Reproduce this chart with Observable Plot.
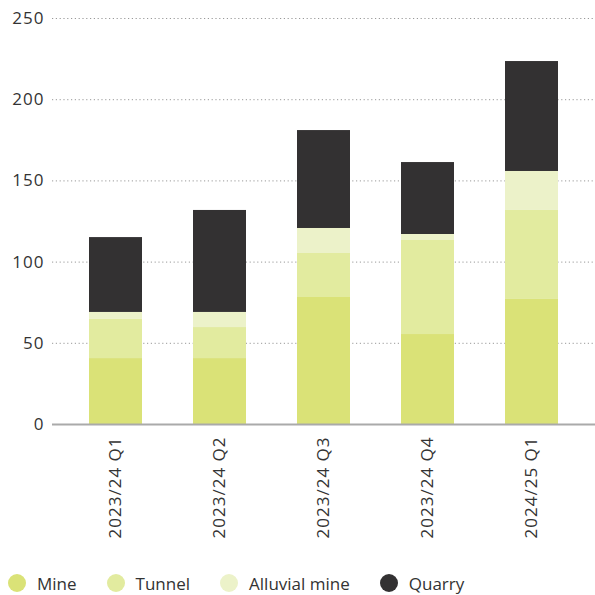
<!DOCTYPE html>
<html>
<head>
<meta charset="utf-8">
<script src="https://cdn.jsdelivr.net/npm/d3@7"></script>
<script src="https://cdn.jsdelivr.net/npm/@observablehq/plot@0.6"></script>
<style>
  html, body { margin: 0; padding: 0; background: #fff; }
  body { width: 595px; font-family: "Open Sans", sans-serif; color: #333; }
  #legend { display: flex; align-items: center; gap: 30px; padding-left: 8px; height: 46px; font-size: 17px; color: #333; }
  #legend .item { display: flex; align-items: center; gap: 11px; }
  #legend .dot { width: 18px; height: 18px; border-radius: 50%; display: inline-block; }
  #chart svg text { letter-spacing: 1px; }
</style>
</head>
<body>
<div id="chart"></div>
<div id="legend"></div>
<script>
const quarters = ["2023/24 Q1", "2023/24 Q2", "2023/24 Q3", "2023/24 Q4", "2024/25 Q1"];
const seriesNames = ["Mine", "Tunnel", "Alluvial mine", "Quarry"];
const seriesColors = ["#dae277", "#e2eb9f", "#ecf2c9", "#333132"];
const mine     = [40.6, 40.6, 78.2, 55.4, 77.0];
const tunnel   = [24.1, 19.1, 27.1, 57.9, 54.8];
const alluvial = [4.3, 9.3, 15.4, 3.7, 24.0];
const quarry   = [46.1, 62.8, 60.3, 44.3, 67.7];
const yTicks = [0, 50, 100, 150, 200, 250];

const seriesValues = [mine, tunnel, alluvial, quarry];
const data = [];
seriesNames.forEach((s, si) => {
  quarters.forEach((q, qi) => data.push({quarter: q, series: s, value: seriesValues[si][qi]}));
});

const chart = Plot.plot({
  width: 595,
  height: 560,
  marginTop: 18,
  marginLeft: 52,
  marginRight: 0,
  marginBottom: 136,
  style: {fontFamily: "Open Sans, sans-serif", fontSize: "17px", color: "#333"},
  x: {domain: quarters, paddingInner: 0.49, paddingOuter: 0.355, label: null},
  y: {domain: [0, 250], label: null},
  color: {domain: seriesNames, range: seriesColors},
  marks: [
    Plot.gridY(yTicks, {stroke: "#999", strokeOpacity: 1, strokeDasharray: "1.2,2.6", strokeWidth: 1}),
    Plot.barY(data, {x: "quarter", y: "value", fill: "series", order: seriesNames}),
    Plot.ruleY([0], {stroke: "#aaa", strokeWidth: 2}),
    Plot.axisY(yTicks, {tickSize: 0, tickPadding: 8, fontSize: 17, label: null, fill: "#333"}),
    Plot.axisX({tickSize: 0, tickPadding: 12, tickRotate: -90, fontSize: 17, label: null, fill: "#333"})
  ]
});
document.getElementById("chart").appendChild(chart);

const legend = document.getElementById("legend");
seriesNames.forEach((s, i) => {
  const item = document.createElement("div");
  item.className = "item";
  const dot = document.createElement("span");
  dot.className = "dot";
  dot.style.background = seriesColors[i];
  const label = document.createElement("span");
  label.textContent = s;
  item.appendChild(dot);
  item.appendChild(label);
  legend.appendChild(item);
});
</script>
</body>
</html>
